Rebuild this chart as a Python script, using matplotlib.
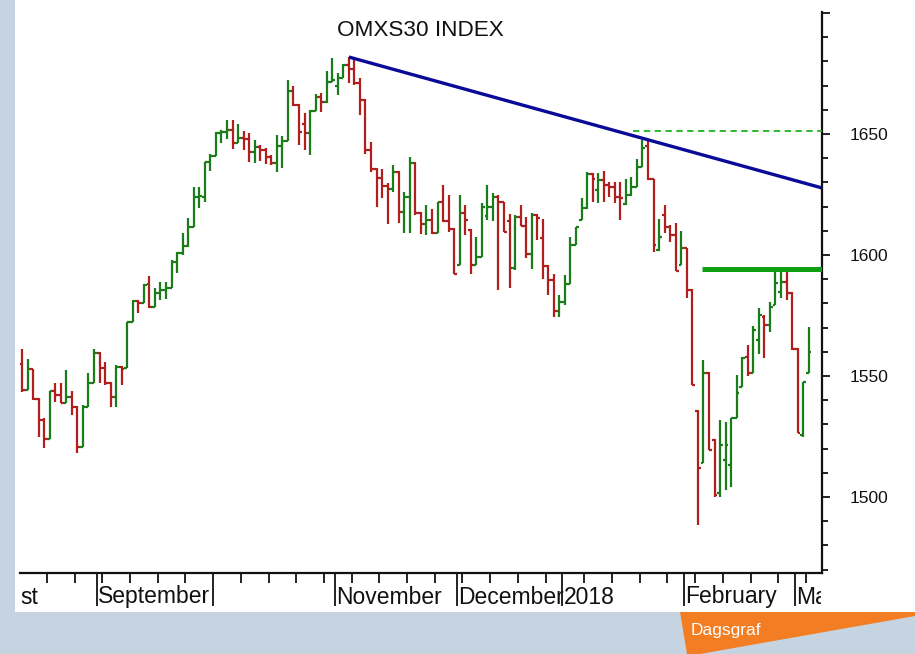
import matplotlib
matplotlib.use("Agg")
import matplotlib.pyplot as plt
from matplotlib.patches import Rectangle, Polygon
import numpy as np
import pandas as pd

# ---------------- data (OMXS30 daily OHLC) ----------------
opens = [1555.0, 1544.2, 1552.9, 1540.5, 1531.8, 1524.0, 1543.8, 1542.2, 1538.9, 1541.3,
         1537.2, 1520.7, 1537.2, 1547.2, 1559.5, 1553.3, 1547.2, 1541.3, 1553.7, 1553.3,
         1572.3, 1581.0, 1580.2, 1588.1, 1578.5, 1584.3, 1585.6, 1586.4, 1597.1, 1600.8,
         1603.7, 1611.6, 1624.0, 1624.0, 1638.5, 1640.9, 1650.4, 1650.9, 1651.7, 1646.3,
         1648.4, 1648.0, 1642.6, 1644.7, 1643.4, 1640.5, 1638.0, 1645.1, 1647.1, 1667.8,
         1662.0, 1654.0, 1650.4, 1659.5, 1665.3, 1663.3, 1671.5, 1670.0, 1673.2, 1678.5,
         1676.9, 1671.1, 1664.1, 1643.4, 1635.6, 1631.8, 1628.5, 1627.3, 1634.3, 1617.8,
         1624.0, 1638.0, 1617.4, 1612.8, 1614.5, 1609.1, 1621.9, 1614.1, 1610.8, 1595.9,
         1617.4, 1610.4, 1595.9, 1599.2, 1616.0, 1619.9, 1624.0, 1621.9, 1614.0, 1594.6,
         1615.7, 1612.0, 1600.4, 1616.6, 1607.0, 1595.5, 1589.7, 1576.9, 1580.6, 1588.1,
         1604.2, 1614.5, 1619.5, 1633.5, 1627.0, 1631.0, 1628.9, 1628.1, 1624.0, 1621.0,
         1624.8, 1628.1, 1636.4, 1645.0, 1631.4, 1602.0, 1616.6, 1611.6, 1608.3, 1595.9,
         1602.9, 1585.6, 1535.6, 1514.1, 1551.3, 1523.6, 1501.7, 1515.3, 1513.3, 1532.7,
         1545.5, 1557.9, 1551.3, 1565.0, 1574.4, 1571.0, 1579.4, 1584.7, 1588.9, 1584.3,
         1561.2, 1525.7, 1551.3]
highs = [1561.2, 1557.0, 1553.0, 1541.0, 1532.5, 1543.8, 1547.2, 1547.2, 1552.5, 1543.8,
         1537.5, 1538.0, 1551.3, 1561.2, 1559.8, 1555.8, 1547.5, 1554.6, 1554.0, 1572.3,
         1581.4, 1581.4, 1588.1, 1591.4, 1586.4, 1588.9, 1588.9, 1597.9, 1601.3, 1609.1,
         1615.3, 1628.1, 1628.1, 1638.5, 1641.8, 1650.9, 1651.7, 1655.8, 1655.8, 1654.2,
         1651.3, 1650.4, 1647.5, 1645.5, 1644.2, 1641.4, 1649.6, 1649.2, 1672.3, 1669.9,
         1662.3, 1658.7, 1659.9, 1666.6, 1667.0, 1676.1, 1681.4, 1675.2, 1678.9, 1681.8,
         1681.0, 1673.2, 1664.5, 1646.7, 1636.0, 1635.6, 1629.8, 1637.2, 1634.5, 1626.1,
         1640.5, 1638.3, 1617.6, 1620.7, 1619.0, 1621.9, 1628.9, 1624.8, 1611.0, 1624.8,
         1620.7, 1610.6, 1607.5, 1621.5, 1628.9, 1625.6, 1624.8, 1622.0, 1617.0, 1616.6,
         1620.7, 1615.7, 1617.4, 1616.8, 1614.9, 1595.9, 1592.2, 1583.5, 1591.8, 1607.5,
         1611.6, 1623.6, 1634.3, 1633.8, 1633.9, 1634.7, 1630.2, 1630.2, 1630.2, 1631.4,
         1632.3, 1639.7, 1647.5, 1648.0, 1631.6, 1614.9, 1620.7, 1612.4, 1613.3, 1609.9,
         1603.0, 1585.8, 1535.8, 1556.6, 1551.5, 1523.8, 1531.8, 1531.0, 1532.7, 1550.4,
         1557.9, 1562.8, 1570.7, 1578.1, 1575.2, 1580.6, 1593.0, 1593.0, 1593.0, 1584.5,
         1561.4, 1547.6, 1570.3]
lows = [1543.4, 1544.2, 1540.1, 1524.8, 1520.3, 1524.0, 1539.3, 1538.9, 1538.9, 1533.9,
        1518.2, 1520.7, 1537.0, 1547.2, 1547.2, 1546.3, 1537.2, 1537.2, 1546.3, 1553.3,
        1572.3, 1576.1, 1580.2, 1578.1, 1578.5, 1581.4, 1581.8, 1586.4, 1592.6, 1600.0,
        1603.3, 1611.6, 1619.5, 1621.9, 1634.7, 1640.9, 1646.3, 1648.0, 1643.8, 1646.3,
        1643.4, 1638.5, 1638.0, 1638.9, 1637.6, 1637.2, 1634.3, 1636.0, 1647.1, 1661.6,
        1645.5, 1643.4, 1641.4, 1659.5, 1659.1, 1662.8, 1671.5, 1666.1, 1673.2, 1671.1,
        1670.3, 1657.9, 1641.8, 1634.3, 1619.9, 1623.6, 1612.8, 1626.1, 1613.3, 1609.1,
        1609.1, 1616.6, 1608.7, 1608.3, 1608.7, 1609.1, 1613.7, 1609.5, 1592.2, 1595.9,
        1608.3, 1592.2, 1595.9, 1599.2, 1614.5, 1614.1, 1585.6, 1609.5, 1586.4, 1593.8,
        1612.0, 1598.8, 1594.2, 1606.2, 1590.1, 1583.5, 1574.4, 1574.4, 1579.4, 1588.1,
        1604.2, 1614.5, 1619.0, 1621.9, 1621.5, 1621.9, 1624.0, 1621.5, 1614.5, 1620.7,
        1624.4, 1628.1, 1636.4, 1631.0, 1601.3, 1601.5, 1609.1, 1605.4, 1593.4, 1595.9,
        1582.3, 1546.3, 1488.5, 1514.1, 1519.5, 1500.0, 1500.0, 1502.9, 1504.2, 1532.7,
        1545.5, 1550.0, 1551.3, 1559.1, 1557.5, 1568.2, 1579.4, 1582.3, 1581.4, 1560.8,
        1526.5, 1524.8, 1551.3]
closes = [1544.2, 1552.9, 1540.5, 1531.8, 1524.0, 1543.8, 1542.2, 1538.9, 1541.3, 1537.2,
          1520.7, 1537.2, 1547.2, 1559.5, 1553.3, 1547.2, 1541.3, 1553.7, 1553.0, 1572.3,
          1581.0, 1580.2, 1587.6, 1578.5, 1584.3, 1585.6, 1586.4, 1597.1, 1600.8, 1603.7,
          1611.6, 1624.0, 1624.5, 1638.5, 1640.9, 1650.4, 1650.9, 1651.7, 1646.3, 1648.4,
          1648.0, 1642.6, 1644.7, 1643.4, 1640.5, 1638.0, 1645.1, 1647.1, 1667.8, 1662.0,
          1650.9, 1650.4, 1659.5, 1665.3, 1663.3, 1671.5, 1672.3, 1673.2, 1678.5, 1676.9,
          1671.1, 1664.1, 1643.4, 1635.6, 1631.8, 1628.5, 1627.3, 1634.3, 1617.8, 1624.0,
          1638.0, 1617.4, 1612.8, 1614.5, 1609.1, 1621.9, 1614.1, 1610.8, 1592.2, 1617.4,
          1614.5, 1595.9, 1599.2, 1619.9, 1619.9, 1624.0, 1621.9, 1609.5, 1594.6, 1615.7,
          1612.0, 1600.4, 1616.6, 1615.3, 1595.5, 1589.7, 1576.9, 1580.6, 1588.1, 1604.2,
          1611.6, 1619.5, 1633.5, 1631.4, 1631.0, 1628.9, 1628.1, 1624.0, 1623.6, 1624.8,
          1628.1, 1636.4, 1644.2, 1631.4, 1604.2, 1607.5, 1611.6, 1608.3, 1593.4, 1602.9,
          1585.6, 1546.3, 1512.0, 1551.3, 1519.5, 1500.9, 1521.5, 1521.5, 1532.7, 1543.0,
          1557.5, 1551.3, 1569.0, 1575.2, 1571.0, 1578.5, 1588.5, 1588.9, 1584.3, 1561.2,
          1526.5, 1547.6, 1559.9]

# trading days (Stockholm holidays removed)
holidays = ["2017-12-25", "2017-12-26", "2018-01-01"]
dates = pd.bdate_range("2017-08-14", "2018-03-05", freq="C", holidays=holidays)

month_labels = ["st", "September", "", "November", "December", "2018", "February", "Ma"]

# drawn trend lines (value levels, x as bar index)
trend_x = [59, 144.4]
trend_y = [1681.8, 1627.7]
resist_dash_x = [110.3, 144.4]
resist_dash_y = [1651.3, 1651.3]
support_x = [122.8, 144.4]
support_y = [1594.4, 1594.4]

# ---------------- figure ----------------
W, H = 915, 654
fig = plt.figure(figsize=(W / 100, H / 100), dpi=100)
BG = "#c6d4e1"
fig.patch.set_facecolor(BG)

def fx(px):
    return px / W

def fy(py):
    return 1 - py / H

# white panel
fig.patches.append(Rectangle((fx(15), fy(612)), 1 - fx(15), fy(0) - fy(612),
                             transform=fig.transFigure, facecolor="white",
                             edgecolor="none", zorder=-2))
# orange tab
tab = Polygon([(fx(680), fy(612)), (fx(915), fy(612)), (fx(915), fy(616)),
               (fx(700), fy(654)), (fx(687), fy(654))], closed=True,
              transform=fig.transFigure, facecolor="#f27d22", edgecolor="none", zorder=-1)
fig.patches.append(tab)
FONT = ["Liberation Sans", "DejaVu Sans"]
fig.text(fx(691), fy(631), "Dagsgraf", color="white", fontsize=12.5,
         family=["Liberation Sans Narrow", "Liberation Sans", "DejaVu Sans"],
         ha="left", va="center", zorder=2)

ax = fig.add_axes([fx(20), fy(573), fx(822) - fx(20), fy(12) - fy(573)])
ax.set_zorder(5)
ax.set_facecolor("none")

n = len(closes)
x = np.arange(n)
o = np.array(opens); h = np.array(highs); l = np.array(lows); c = np.array(closes)
up = c >= o
GREEN = "#1a7d1a"
RED = "#b01e1e"
cols = np.where(up, GREEN, RED)
lw = 1.6
tk = 0.5
ax.vlines(x, l, h, colors=cols, linewidth=lw, zorder=3)
ax.hlines(o, x - tk, x, colors=cols, linewidth=lw, zorder=3)
ax.hlines(c, x, x + tk, colors=cols, linewidth=lw, zorder=3)

ax.plot(trend_x, trend_y, color="#0a0a99", linewidth=2.4, solid_capstyle="butt", zorder=4)
ax.plot(resist_dash_x, resist_dash_y, color="#1db31d", linewidth=1.3,
        linestyle=(0, (3.5, 2.5)), zorder=4)
ax.plot(support_x, support_y, color="#0ea00e", linewidth=3.6,
        solid_capstyle="butt", zorder=4)

ax.set_xlim(-0.36, 144.4)
ax.set_ylim(1468.6, 1700.4)

# spines
for s in ["top", "left"]:
    ax.spines[s].set_visible(False)
for s in ["bottom", "right"]:
    ax.spines[s].set_linewidth(1.6)
    ax.spines[s].set_color("#111111")

# y axis on right
ax.yaxis.tick_right()
ax.set_yticks([1500, 1550, 1600, 1650, 1700])
ax.set_yticklabels(["1500", "1550", "1600", "1650", ""])
ax.set_yticks(np.arange(1470, 1701, 10), minor=True)
ax.tick_params(axis="y", which="major", length=6, width=1.3, pad=14,
               labelsize=12.5, colors="#111111")
ax.tick_params(axis="y", which="minor", length=4, width=1.3, colors="#111111")
for t in ax.get_yticklabels():
    t.set_family(FONT)

# x axis: month boundaries (long) and weekly (short) ticks
ds = pd.Series(range(n), index=dates)
month_start = ds.groupby([dates.year, dates.month]).min().values
week_start = ds.groupby(dates.to_period("W")).min().values
month_ticks = [m - 0.5 for m in month_start[1:]]
week_ticks = [w - 0.5 for w in week_start[1:] if w not in month_start]
ax.set_xticks(month_ticks)
ax.set_xticklabels([])
ax.set_xticks(week_ticks, minor=True)
ax.tick_params(axis="x", which="major", length=24, width=1.3, colors="#111111")
ax.tick_params(axis="x", which="minor", length=7, width=1.3, colors="#111111")

# clip region for the month labels (they stop at the right axis)
clip_rect = Rectangle((0, 0), fx(821), 1, transform=fig.transFigure,
                      facecolor="none", edgecolor="none")
label_pos = [-0.3] + [m - 0.25 for m in month_start[1:]]
for pos, lab in zip(label_pos, month_labels):
    if lab:
        ann = ax.annotate(lab, xy=(pos, 0), xycoords=("data", "axes fraction"),
                          xytext=(0, -24), textcoords="offset pixels", ha="left",
                          va="center", fontsize=16.5, family=FONT, color="#111111",
                          annotation_clip=False)
        ann.set_clip_path(clip_rect)
        ann.set_clip_on(True)

fig.text(fx(420), fy(31), "OMXS30 INDEX", ha="center", va="center",
         fontsize=16.2, family=FONT, color="#111111")

fig.savefig("out.png", dpi=100, facecolor=fig.get_facecolor())
